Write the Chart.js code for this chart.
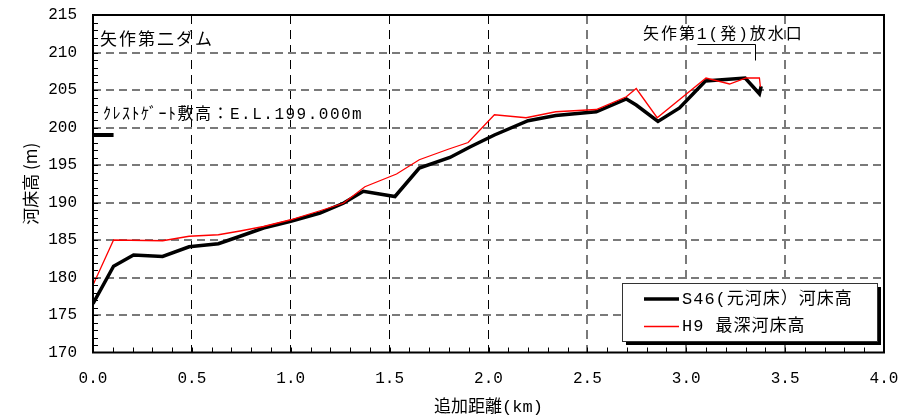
<!DOCTYPE html>
<html>
<head>
<meta charset="utf-8">
<script src="https://cdn.jsdelivr.net/npm/chart.js@4.4.1/dist/chart.umd.min.js"></script>
<style>
  html, body { margin: 0; padding: 0; background: #fff; }
  #wrap { width: 917px; height: 420px; position: relative; }
</style>
</head>
<body>
<div id="wrap"><canvas id="c"></canvas></div>
<script>
// 河床縦断（矢作第二ダム貯水池）
// S46 (元河床) 河床高
const s46Km   = [0, 0.104, 0.205, 0.352, 0.486, 0.634, 0.744, 0.862, 1.0, 1.148, 1.266, 1.367, 1.527, 1.65, 1.805, 1.906, 2.03, 2.2, 2.34, 2.545, 2.697, 2.747, 2.857, 2.966, 3.097, 3.298, 3.37, 3.379];
const s46Elev = [176.5, 181.5, 183.0, 182.8, 184.1, 184.5, 185.5, 186.6, 187.5, 188.6, 189.9, 191.5, 190.8, 194.6, 196.0, 197.4, 199.0, 200.9, 201.6, 202.1, 203.8, 203.0, 200.8, 202.6, 206.2, 206.6, 204.5, 205.5];

// H9 最深河床高
const h9Km   = [0, 0.104, 0.352, 0.486, 0.634, 0.744, 0.862, 1.0, 1.148, 1.266, 1.375, 1.535, 1.65, 1.796, 1.897, 2.03, 2.19, 2.34, 2.545, 2.697, 2.747, 2.853, 3.1, 3.219, 3.303, 3.37, 3.375];
const h9Elev = [179.0, 185.0, 184.9, 185.5, 185.7, 186.2, 186.8, 187.7, 188.9, 189.9, 192.1, 193.8, 195.7, 197.1, 198.0, 201.7, 201.3, 202.1, 202.4, 204.1, 205.2, 201.3, 206.6, 205.8, 206.6, 206.6, 205.4];

// クレストゲート敷高 E.L.199.000m
const crestKm   = [0, 0.104];
const crestElev = [199.0, 199.0];

// 放水口の引出線
const outletLeaderKm   = [3.053, 3.348, 3.348];
const outletLeaderElev = [211.1, 211.1, 209.0];

// 軸
const xMin = 0, xMax = 4.0, xStep = 0.5, xMinorStep = 0.1;
const yMin = 170, yMax = 215, yStep = 5, yMinorStep = 1;

const seriesLabels = ['S46(元河床）河床高', 'H9 最深河床高'];
const damLabel = '矢作第二ダム';
const crestLabel = 'ｸﾚｽﾄｹﾞｰﾄ敷高：E.L.199.000m';
const outletLabel = '矢作第1(発)放水口';

const toXY = (xs, ys) => xs.map((v, i) => ({ x: v, y: ys[i] }));

const MONO = "'Liberation Mono', 'Noto Sans CJK JP', monospace";
const CJK = "'Noto Sans CJK JP', 'Liberation Mono', sans-serif";

Chart.defaults.font.family = MONO;
Chart.defaults.color = '#000';

const overlay = {
  id: 'overlay',
  afterDatasetsDraw(chart) {
    const { ctx, chartArea: a, scales: { x, y } } = chart;
    ctx.save();
    ctx.setLineDash([]);
    ctx.strokeStyle = '#000';

    // 副目盛（内向き）
    ctx.lineWidth = 1;
    ctx.beginPath();
    for (let v = yMin + yMinorStep; v < yMax; v += yMinorStep) {
      const py = Math.round(y.getPixelForValue(v)) + 0.5;
      ctx.moveTo(a.left, py);
      ctx.lineTo(a.left + 5, py);
    }
    for (let i = 1; i < Math.round((xMax - xMin) / xMinorStep); i++) {
      const px = Math.round(x.getPixelForValue(xMin + i * xMinorStep)) + 0.5;
      ctx.moveTo(px, a.bottom);
      ctx.lineTo(px, a.bottom - 5);
    }
    ctx.stroke();

    // 枠
    ctx.lineWidth = 2;
    ctx.strokeRect(a.left, a.top, a.right - a.left, a.bottom - a.top);

    // 引出線
    ctx.lineWidth = 1;
    ctx.beginPath();
    outletLeaderKm.forEach((k, i) => {
      const px = Math.round(x.getPixelForValue(k)) + 0.5;
      const py = Math.round(y.getPixelForValue(outletLeaderElev[i])) + 0.5;
      if (i === 0) ctx.moveTo(px, py); else ctx.lineTo(px, py);
    });
    ctx.stroke();

    // 注記
    ctx.fillStyle = '#000';
    ctx.textBaseline = 'middle';
    ctx.textAlign = 'left';
    ctx.font = '17px ' + CJK;
    ctx.letterSpacing = '2px';
    ctx.fillText(damLabel, a.left + 7, a.top + 24);

    ctx.font = '16px ' + MONO;
    ctx.letterSpacing = '1.5px';
    ctx.fillText(crestLabel, a.left + 10, a.top + 100);

    ctx.font = '16px ' + MONO;
    ctx.letterSpacing = '2px';
    ctx.fillText(outletLabel, a.left + 550, a.top + 20);

    // 凡例
    const bw = 255, bh = 58;
    const bx = a.right - 7 - bw, by = a.bottom - 11.5 - bh;
    ctx.fillStyle = '#000';
    ctx.fillRect(bx + 4, by + 4, bw, bh);
    ctx.fillStyle = '#fff';
    ctx.fillRect(bx, by, bw, bh);
    ctx.lineWidth = 1;
    ctx.strokeStyle = '#333';
    ctx.strokeRect(bx + 0.5, by + 0.5, bw, bh);

    const rows = [
      { ds: chart.data.datasets[0], y: by + 16 },
      { ds: chart.data.datasets[1], y: by + 43.5 }
    ];
    ctx.font = '17px ' + MONO;
    ctx.letterSpacing = '1px';
    rows.forEach(r => {
      ctx.strokeStyle = r.ds.borderColor;
      ctx.lineWidth = r.ds.borderWidth;
      ctx.beginPath();
      ctx.moveTo(bx + 22, r.y);
      ctx.lineTo(bx + 57, r.y);
      ctx.stroke();
      ctx.fillStyle = '#000';
      ctx.fillText(r.ds.label, bx + 60, r.y);
    });
    ctx.restore();
  }
};

new Chart(document.getElementById('c'), {
  type: 'line',
  data: {
    datasets: [
      {
        label: seriesLabels[0],
        data: toXY(s46Km, s46Elev),
        borderColor: '#000',
        borderWidth: 3.5,
        pointRadius: 0,
        tension: 0,
        order: 2
      },
      {
        label: seriesLabels[1],
        data: toXY(h9Km, h9Elev),
        borderColor: '#ff0000',
        borderWidth: 1.3,
        pointRadius: 0,
        tension: 0,
        order: 1
      },
      {
        label: 'crest',
        data: toXY(crestKm, crestElev),
        borderColor: '#000',
        borderWidth: 4,
        borderCapStyle: 'butt',
        pointRadius: 0,
        order: 3
      }
    ]
  },
  options: {
    responsive: true,
    maintainAspectRatio: false,
    animation: false,
    events: [],
    layout: { padding: { top: 15, right: 33, left: 0, bottom: 0 } },
    plugins: {
      legend: { display: false },
      tooltip: { enabled: false },
      title: { display: false }
    },
    scales: {
      x: {
        type: 'linear',
        min: xMin,
        max: xMax,
        afterFit(scale) {
          scale.height = 67.5;
          scale.paddingLeft = 0;
          scale.paddingRight = 0;
        },
        ticks: {
          stepSize: xStep,
          padding: 17,
          maxRotation: 0,
          font: { size: 16 },
          callback: v => Number(v).toFixed(1)
        },
        grid: {
          drawTicks: false,
          color: c => (c.tick && (c.tick.value <= xMin || c.tick.value >= xMax)) ? 'rgba(0,0,0,0)'
                    : (c.tick && c.tick.value >= 2.5 ? '#7a7a7a' : '#000'),
          lineWidth: c => (c.tick && c.tick.value >= 2.5) ? 2 : 1
        },
        border: { display: false, dash: [9, 6] },
        title: {
          display: true,
          text: '追加距離(km)',
          font: { size: 17 },
          padding: { top: 0, bottom: 2 }
        }
      },
      y: {
        type: 'linear',
        min: yMin,
        max: yMax,
        afterFit(scale) {
          scale.width = 93;
          scale.paddingTop = 0;
          scale.paddingBottom = 0;
        },
        ticks: {
          stepSize: yStep,
          padding: 16,
          font: { size: 16 }
        },
        grid: {
          drawTicks: false,
          color: c => (c.tick && (c.tick.value <= yMin || c.tick.value >= yMax)) ? 'rgba(0,0,0,0)' : '#7a7a7a',
          lineWidth: 2
        },
        border: { display: false, dash: [8, 5] },
        title: {
          display: true,
          text: '河床高 (m)',
          font: { size: 17, family: CJK },
          padding: { top: 20, bottom: 0 }
        }
      }
    }
  },
  plugins: [overlay]
});
</script>
</body>
</html>
